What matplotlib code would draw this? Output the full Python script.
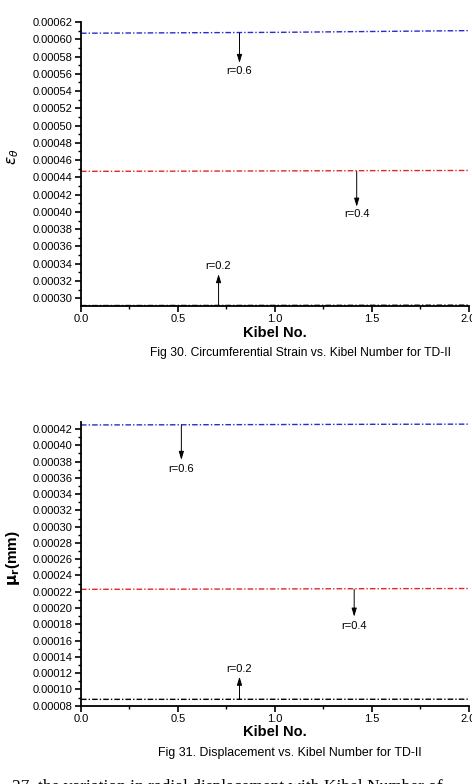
import matplotlib
matplotlib.use("Agg")
import matplotlib.pyplot as plt
from matplotlib.ticker import MultipleLocator, FormatStrFormatter

plt.rcParams['font.family'] = ['Liberation Sans', 'DejaVu Sans']

# Kibel number samples
kibel = [0.0, 0.5, 1.0, 1.5, 2.0]

# Fig 30 - circumferential strain
strain_r06 = [0.000607, 0.0006075, 0.000608, 0.000609, 0.000610]
strain_r04 = [0.000447, 0.0004472, 0.0004475, 0.0004478, 0.000448]
strain_r02 = [0.0002915, 0.0002916, 0.0002917, 0.0002918, 0.000292]

# Fig 31 - radial displacement
disp_r06 = [0.000425, 0.0004252, 0.0004255, 0.0004258, 0.000426]
disp_r04 = [0.000223, 0.0002232, 0.0002235, 0.0002238, 0.000224]
disp_r02 = [0.0000878, 0.0000878, 0.0000879, 0.0000879, 0.000088]

labels = ['r=0.6', 'r=0.4', 'r=0.2']
colors = ['#2a2ad0', '#e02828', 'black']
dash = (0, (4, 1.5, 1, 1.5))

# annotation positions: (x, arrow tail y, arrow tip y, label y)
ann_strain = [(0.818, 0.000607, 0.0005725, 0.000563),
              (1.423, 0.000447, 0.000406, 0.0003976),
              (0.71, 0.000291, 0.000328, 0.000337)]
ann_disp = [(0.518, 0.000425, 0.000382, 0.0003705),
            (1.41, 0.000223, 0.0001894, 0.0001784),
            (0.818, 0.000088, 0.0001157, 0.0001248)]


def style_axes(ax, ylo, yhi):
    ax.set_xlim(0, 2.0)
    ax.set_ylim(ylo, yhi)
    ax.spines['top'].set_visible(False)
    ax.spines['right'].set_visible(False)
    ax.spines['left'].set_linewidth(1.3)
    ax.spines['bottom'].set_linewidth(1.3)
    ax.xaxis.set_major_locator(MultipleLocator(0.5))
    ax.xaxis.set_minor_locator(MultipleLocator(0.25))
    ax.yaxis.set_major_locator(MultipleLocator(0.00002))
    ax.yaxis.set_minor_locator(MultipleLocator(0.00001))
    ax.xaxis.set_major_formatter(FormatStrFormatter('%.1f'))
    ax.yaxis.set_major_formatter(FormatStrFormatter('%.5f'))
    ax.tick_params(which='major', direction='out', length=4, width=1.2, labelsize=8, pad=2)
    ax.tick_params(which='minor', direction='out', length=2.5, width=1)
    ax.set_xlabel('Kibel No.', fontsize=10.5, fontweight='bold', labelpad=1)


def annotate(ax, anns):
    for (x, y0, y1, yl), lab in zip(anns, labels):
        ax.annotate('', xy=(x, y1), xytext=(x, y0),
                    arrowprops=dict(arrowstyle='-|>,head_length=0.5,head_width=0.15',
                                    color='black', lw=0.7, shrinkA=0, shrinkB=0))
        ax.text(x, yl, lab, ha='center', va='center', fontsize=8)


fig = plt.figure(figsize=(4.72, 7.84), dpi=100)

ax1 = fig.add_axes([81 / 472, 1 - 306 / 784, (468.5 - 81) / 472, 284 / 784])
for ys, c in zip([strain_r06, strain_r04, strain_r02], colors):
    ax1.plot(kibel, ys, color=c, linestyle=dash, lw=1)
style_axes(ax1, 0.000291, 0.00062)
annotate(ax1, ann_strain)
fig.text(13 / 472, 1 - 157 / 784, r'$\varepsilon_\theta$', rotation=90,
         ha='center', va='center', fontsize=11)

ax2 = fig.add_axes([81 / 472, 1 - 705.7 / 784, (468.5 - 81) / 472, 284 / 784])
for ys, c in zip([disp_r06, disp_r04, disp_r02], colors):
    ax2.plot(kibel, ys, color=c, linestyle=dash, lw=1)
style_axes(ax2, 0.00008, 0.000429)
annotate(ax2, ann_disp)
fig.text(13 / 472, 1 - 558 / 784, r'$\mathbf{\mu_r}$(mm)', rotation=90,
         ha='center', va='center', fontsize=11, fontweight='bold')

fig.text(300 / 472, 1 - 353 / 784,
         'Fig 30. Circumferential Strain vs. Kibel Number for TD-II',
         ha='center', va='center', fontsize=8.7)
fig.text(290 / 472, 1 - 753 / 784,
         'Fig 31. Displacement vs. Kibel Number for TD-II',
         ha='center', va='center', fontsize=8.9)
fig.text(12 / 472, 1 - 791 / 784,
         '27. the variation in radial displacement with Kibel Number of',
         ha='left', va='baseline', fontsize=12.5, family='Liberation Serif')

fig.savefig('out.png', dpi=100)
